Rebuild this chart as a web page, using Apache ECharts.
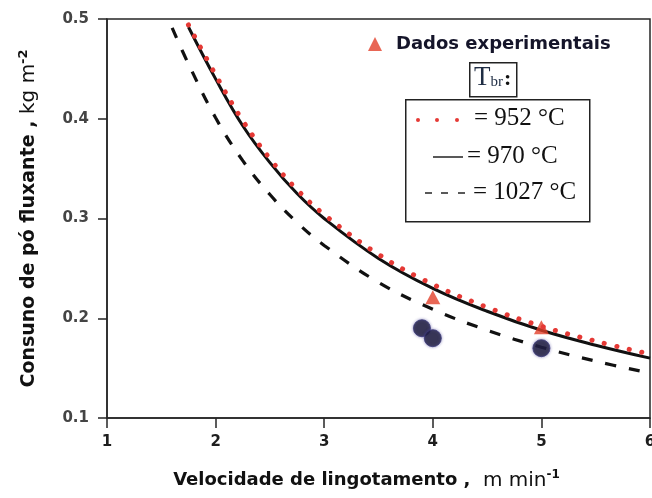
<!DOCTYPE html>
<html>
<head>
<meta charset="utf-8">
<script src="https://cdn.jsdelivr.net/npm/echarts@6/dist/echarts.min.js"></script>
<style>
  html, body { margin: 0; padding: 0; background: #fff; }
  #chart { width: 652px; height: 498px; }
</style>
</head>
<body>
<div id="chart"></div>
<script>
// Casting speed (m/min) sampled along the model curves
const velocidade = [1.75, 2.0, 2.25, 2.5, 2.75, 3.0, 3.5, 4.0, 4.5, 5.0, 5.5, 6.0];
// Mould powder consumption (kg/m2) for each break temperature
const consumo952 = [0.494, 0.444, 0.398, 0.360, 0.329, 0.304, 0.264, 0.234, 0.211, 0.192, 0.177, 0.164];
const consumo970 = [0.492, 0.440, 0.393, 0.356, 0.325, 0.300, 0.260, 0.230, 0.207, 0.188, 0.173, 0.160];
const velocidade1027 = [1.6, 1.75, 2.0, 2.25, 2.5, 2.75, 3.0, 3.5, 4.0, 4.5, 5.0, 5.5, 6.0];
const consumo1027 = [0.491, 0.455, 0.401, 0.358, 0.324, 0.296, 0.273, 0.236, 0.209, 0.188, 0.171, 0.157, 0.145];

// Plant measurements
const expVelTri = [4.0, 5.0];
const expConsTri = [0.221, 0.191];
const expVelCirc = [3.9, 4.0, 5.0];
const expConsCirc = [0.190, 0.180, 0.170];

// Legend text for the model curves
const tempLabels = ['= 952 °C', '= 970 °C', '= 1027 °C'];

const zip = (xs, ys) => xs.map((x, i) => [x, ys[i]]);

const sans = 'DejaVu Sans';
const serif = 'Liberation Serif';

const chart = echarts.init(document.getElementById('chart'), null, { renderer: 'canvas' });

chart.setOption({
  backgroundColor: '#ffffff',
  animation: false,
  grid: {
    left: 107, right: 2, top: 19, bottom: 80,
    containLabel: false,
    outerBoundsMode: 'none',
    show: true, borderColor: '#262626', borderWidth: 1.5
  },
  legend: {
    data: [{ name: 'Dados experimentais', icon: 'triangle' }],
    left: 368, top: 35,
    padding: 0,
    itemWidth: 14, itemHeight: 14,
    selectedMode: false,
    textStyle: { fontFamily: sans, fontWeight: 'bold', fontSize: 18, color: '#15152a', padding: [0, 0, 0, 9] }
  },
  xAxis: {
    type: 'value', min: 1, max: 6, interval: 1,
    axisLine: { lineStyle: { color: '#262626', width: 1.5 } },
    axisTick: { show: true, inside: false, length: 10, lineStyle: { color: '#262626', width: 1.5 } },
    splitLine: { show: false },
    axisLabel: { margin: 17, fontFamily: sans, fontWeight: 'bold', fontSize: 15, color: '#1e1e1e' },
    name: '{b|Velocidade de lingotamento ,  }{n|m min}{s|-1}',
    nameLocation: 'middle',
    nameGap: 51,
    nameTextStyle: {
      padding: [0, 24, 0, 0],
      rich: {
        b: { fontFamily: sans, fontWeight: 'bold', fontSize: 18, color: '#111' },
        n: { fontFamily: sans, fontWeight: 'normal', fontSize: 20, color: '#111' },
        s: { fontFamily: sans, fontWeight: 'bold', fontSize: 12, color: '#111', padding: [0, 0, 11, 0] }
      }
    }
  },
  yAxis: {
    type: 'value', min: 0.1, max: 0.5, interval: 0.1,
    axisLine: { show: true, lineStyle: { color: '#262626', width: 1.5 } },
    axisTick: { show: true, inside: false, length: 9, lineStyle: { color: '#262626', width: 1.5 } },
    splitLine: { show: false },
    axisLabel: {
      margin: 18, fontFamily: sans, fontWeight: 'bold', fontSize: 15, color: '#444',
      formatter: v => v.toFixed(1)
    },
    name: '{b|Consuno de pó fluxante , }{n|kg m}{s|-2}',
    nameLocation: 'middle',
    nameGap: 66,
    nameTextStyle: {
      rich: {
        b: { fontFamily: sans, fontWeight: 'bold', fontSize: 19, color: '#111' },
        n: { fontFamily: sans, fontWeight: 'normal', fontSize: 20, color: '#111' },
        s: { fontFamily: sans, fontWeight: 'bold', fontSize: 13, color: '#111', padding: [0, 0, 11, 0] }
      }
    }
  },
  series: [
    {
      name: '1027 °C',
      type: 'line',
      data: zip(velocidade1027, consumo1027),
      smooth: 0.4,
      showSymbol: false,
      lineStyle: { color: '#111', width: 3.2, type: [11, 13] },
      z: 3
    },
    {
      name: '970 °C',
      type: 'line',
      data: zip(velocidade, consumo970),
      smooth: 0.4,
      showSymbol: false,
      lineStyle: { color: '#111', width: 3 },
      z: 3
    },
    {
      name: 'Dados experimentais',
      type: 'scatter',
      symbol: 'triangle',
      symbolSize: [15, 14],
      data: zip(expVelTri, expConsTri),
      itemStyle: { color: '#e2402a' },
      z: 4
    },
    {
      name: '952 °C',
      type: 'line',
      data: zip(velocidade, consumo952),
      smooth: 0.4,
      showSymbol: false,
      lineStyle: { color: '#e53935', width: 5, type: [0.1, 12.6], cap: 'round' },
      z: 5
    },
    {
      name: 'Medições',
      type: 'scatter',
      symbol: 'circle',
      symbolSize: 17,
      data: zip(expVelCirc, expConsCirc),
      itemStyle: {
        color: '#1c1a38', borderColor: '#3b3a78', borderWidth: 1,
        shadowBlur: 3, shadowColor: 'rgba(70,60,150,0.6)'
      },
      z: 6
    }
  ],
  graphic: [
    // T_br header box
    {
      type: 'rect', left: 469, top: 62, z: 10,
      shape: { width: 47, height: 34 },
      style: { fill: '#fff', stroke: '#222', lineWidth: 1.5 }
    },
    {
      type: 'text', left: 474, top: 64, z: 11,
      style: {
        text: '{t|T}{s|br}{c|:}',
        rich: {
          t: { fontFamily: serif, fontSize: 27, fill: '#1f2d44' },
          s: { fontFamily: serif, fontSize: 15, fill: '#1f2d44', padding: [10, 0, 0, 0] },
          c: { fontFamily: serif, fontSize: 22, fontWeight: 'bold', fill: '#111', padding: [4, 0, 0, 1] }
        }
      }
    },
    // curve key box
    {
      type: 'rect', left: 405, top: 99, z: 10,
      shape: { width: 184, height: 122 },
      style: { fill: '#fff', stroke: '#222', lineWidth: 1.5 }
    },
    { type: 'circle', z: 11, shape: { cx: 418, cy: 120, r: 2 }, style: { fill: '#e53935' } },
    { type: 'circle', z: 11, shape: { cx: 437, cy: 120, r: 2 }, style: { fill: '#e53935' } },
    { type: 'circle', z: 11, shape: { cx: 457, cy: 120, r: 2 }, style: { fill: '#e53935' } },
    {
      type: 'text', left: 474, top: 106, z: 11,
      style: { text: tempLabels[0], fontFamily: serif, fontSize: 25, fill: '#111' }
    },
    { type: 'line', z: 11, shape: { x1: 433, y1: 157, x2: 463, y2: 157 }, style: { stroke: '#222', lineWidth: 1.5 } },
    {
      type: 'text', left: 467, top: 144, z: 11,
      style: { text: tempLabels[1], fontFamily: serif, fontSize: 25, fill: '#111' }
    },
    { type: 'line', z: 11, shape: { x1: 425, y1: 193, x2: 432, y2: 193 }, style: { stroke: '#222', lineWidth: 1.5 } },
    { type: 'line', z: 11, shape: { x1: 441, y1: 193, x2: 448, y2: 193 }, style: { stroke: '#222', lineWidth: 1.5 } },
    { type: 'line', z: 11, shape: { x1: 458, y1: 193, x2: 465, y2: 193 }, style: { stroke: '#222', lineWidth: 1.5 } },
    {
      type: 'text', left: 473, top: 180, z: 11,
      style: { text: tempLabels[2], fontFamily: serif, fontSize: 25, fill: '#111' }
    }
  ]
});
</script>
</body>
</html>
